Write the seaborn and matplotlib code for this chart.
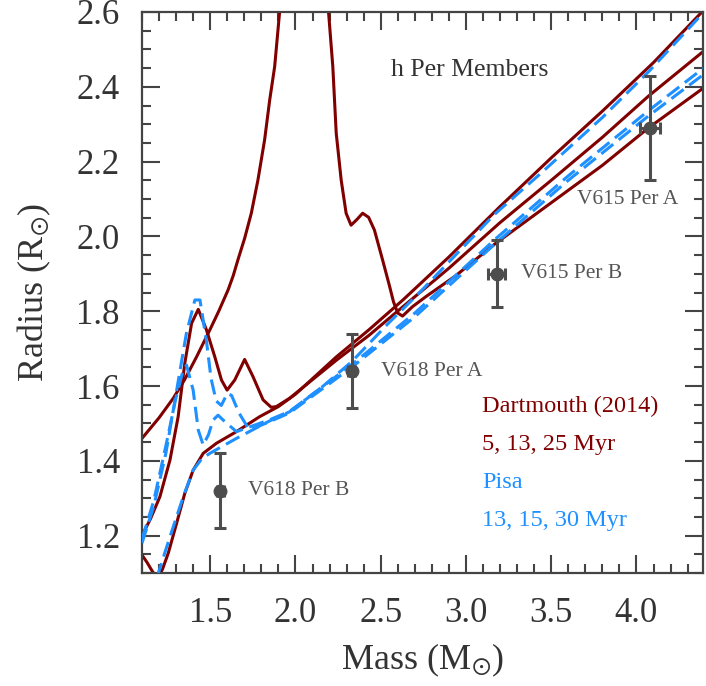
import numpy as np
import pandas as pd
import matplotlib
matplotlib.use("Agg")
import matplotlib.pyplot as plt
import seaborn as sns
from matplotlib.ticker import MultipleLocator

# ---------------- data ----------------
# Dartmouth (2014) isochrones
dart_5_m = [1.10, 1.20, 1.283, 1.35, 1.42, 1.50, 1.55, 1.605, 1.635, 1.663, 1.702, 1.741, 1.78,
            1.819, 1.849, 1.878, 1.907, 1.93, 1.97, 2.05, 2.13, 2.17, 2.194, 2.219, 2.239,
            2.268, 2.297, 2.326, 2.36, 2.394, 2.429, 2.463, 2.511, 2.55, 2.575, 2.60, 2.628,
            2.686, 2.765, 2.94, 3.17, 3.50, 3.80, 4.07, 4.39]
dart_5_r = [1.460, 1.515, 1.567, 1.617, 1.678, 1.752, 1.800, 1.857, 1.895, 1.938, 1.995, 2.062, 2.151,
            2.258, 2.365, 2.454, 2.600, 2.750, 2.950, 3.050, 2.950, 2.780, 2.600, 2.454, 2.276,
            2.151, 2.062, 2.030, 2.045, 2.062, 2.051, 2.017, 1.937, 1.870, 1.825, 1.795, 1.787,
            1.812, 1.839, 1.895, 1.980, 2.090, 2.190, 2.290, 2.396]

dart_13_m = [1.10, 1.15, 1.205, 1.264, 1.312, 1.351, 1.391, 1.43, 1.478, 1.527, 1.566, 1.599,
             1.644, 1.702, 1.751, 1.81, 1.858, 1.888, 1.965, 2.24, 2.43, 2.63, 2.90, 3.20,
             3.50, 3.80, 4.07, 4.39]
dart_13_r = [1.200, 1.245, 1.304, 1.402, 1.518, 1.661, 1.768, 1.805, 1.750, 1.678, 1.616, 1.589,
             1.616, 1.671, 1.625, 1.563, 1.543, 1.545, 1.567, 1.669, 1.735, 1.812, 1.915, 2.037,
             2.150, 2.265, 2.375, 2.494]

dart_25_m = [1.10, 1.13, 1.16, 1.18, 1.20, 1.22, 1.254, 1.303, 1.351, 1.40, 1.459, 1.537,
             1.654, 1.79, 1.90, 2.00, 2.24, 2.43, 2.63, 2.90, 3.20, 3.50, 3.80, 4.10, 4.39]
dart_25_r = [1.148, 1.128, 1.105, 1.092, 1.092, 1.110, 1.153, 1.233, 1.313, 1.375, 1.420, 1.447,
             1.478, 1.518, 1.545, 1.578, 1.678, 1.750, 1.830, 1.945, 2.080, 2.210, 2.335, 2.465,
             2.603]

# Pisa isochrones
pisa_13_m = [1.10, 1.17, 1.24, 1.30, 1.36, 1.41, 1.44, 1.478, 1.505, 1.535, 1.565, 1.60,
             1.625, 1.67, 1.73, 1.85, 1.965, 2.33, 2.70, 3.17, 3.60, 4.07, 4.39]
pisa_13_r = [1.180, 1.280, 1.420, 1.580, 1.740, 1.830, 1.830, 1.720, 1.620, 1.560, 1.548, 1.580,
             1.575, 1.527, 1.482, 1.505, 1.528, 1.650, 1.785, 1.980, 2.150, 2.322, 2.432]

pisa_15_m = [1.10, 1.17, 1.24, 1.30, 1.34, 1.361, 1.40, 1.43, 1.459, 1.49, 1.517, 1.546,
             1.585, 1.654, 1.85, 1.965, 2.33, 2.70, 3.17, 3.60, 4.07, 4.39]
pisa_15_r = [1.190, 1.295, 1.440, 1.570, 1.640, 1.656, 1.589, 1.482, 1.442, 1.470, 1.509, 1.522,
             1.505, 1.478, 1.510, 1.532, 1.657, 1.795, 1.992, 2.162, 2.336, 2.449]

pisa_30_m = [1.15, 1.196, 1.264, 1.342, 1.40, 1.45, 1.498, 1.654, 1.85, 1.965, 2.15, 2.33,
             2.55, 2.726, 3.17, 3.43, 3.80, 4.07, 4.39]
pisa_30_r = [1.030, 1.100, 1.197, 1.304, 1.375, 1.405, 1.420, 1.460, 1.507, 1.531, 1.595, 1.665,
             1.770, 1.849, 2.060, 2.165, 2.318, 2.440, 2.597]

# h Per eclipsing binary members
star_names = ["V618 Per B", "V618 Per A", "V615 Per B", "V615 Per A"]
star_mass = [1.56, 2.33, 3.18, 4.08]
star_mass_err = [0.02, 0.02, 0.05, 0.06]
star_rad = [1.32, 1.64, 1.90, 2.29]
star_rad_err = [0.10, 0.10, 0.09, 0.14]

# ---------------- style ----------------
sns.set_style("ticks")
plt.rcParams["font.family"] = ["Liberation Serif", "DejaVu Serif"]
plt.rcParams["mathtext.fontset"] = "stix"

RED = "#800000"
BLUE = "#1e90ff"
GREY = "#444444"

fig = plt.figure(figsize=(7.06, 6.86), dpi=100)
ax = fig.add_axes([142 / 706, 1 - 573 / 686, (703 - 142) / 706, (573 - 12) / 686])

for m, r in [(dart_5_m, dart_5_r), (dart_13_m, dart_13_r), (dart_25_m, dart_25_r)]:
    df = pd.DataFrame({"m": m, "r": r})
    sns.lineplot(data=df, x="m", y="r", sort=False, estimator=None, ax=ax,
                 color=RED, lw=2.2, solid_joinstyle="round", zorder=2)

for m, r in [(pisa_13_m, pisa_13_r), (pisa_15_m, pisa_15_r), (pisa_30_m, pisa_30_r)]:
    df = pd.DataFrame({"m": m, "r": r})
    sns.lineplot(data=df, x="m", y="r", sort=False, estimator=None, ax=ax,
                 color=BLUE, lw=2.2, linestyle=(0, (5.0, 2.3)), zorder=3)

ax.errorbar(star_mass, star_rad, xerr=star_mass_err, yerr=star_rad_err, fmt="o",
            color="#4d4d4d", ms=9, elinewidth=2.2, capsize=4, capthick=2.2, zorder=5)

label_offsets = [(0.16, 0.0), (0.17, 0.0), (0.14, 0.0), (-0.43, -0.19)]
for name, mx, ry, (dx, dy) in zip(star_names, star_mass, star_rad, label_offsets):
    ax.text(mx + dx, ry + dy, name, fontsize=15.5, color="#555555", ha="left", va="center")

ax.text(0.585, 0.897, "h Per Members", transform=ax.transAxes, fontsize=18.5,
        color="#333333", ha="center", va="center")
ax.text(3.094, 1.544, "Dartmouth (2014)", fontsize=17.5, color=RED, ha="left", va="center")
ax.text(3.094, 1.443, "5, 13, 25 Myr", fontsize=17.5, color=RED, ha="left", va="center")
ax.text(3.094, 1.341, "Pisa", fontsize=17.5, color=BLUE, ha="left", va="center")
ax.text(3.094, 1.240, "13, 15, 30 Myr", fontsize=17.5, color=BLUE, ha="left", va="center")

ax.set_xlim(1.1, 4.39)
ax.set_ylim(1.1, 2.6)
ax.xaxis.set_minor_locator(MultipleLocator(0.1))
ax.yaxis.set_minor_locator(MultipleLocator(0.05))
ax.set_xticks([1.5, 2.0, 2.5, 3.0, 3.5, 4.0])
ax.set_xticklabels(["1.5", "2.0", "2.5", "3.0", "3.5", "4.0"])
ax.set_yticks([1.2, 1.4, 1.6, 1.8, 2.0, 2.2, 2.4, 2.6])
ax.set_yticklabels(["1.2", "1.4", "1.6", "1.8", "2.0", "2.2", "2.4", "2.6"])

ax.tick_params(which="both", direction="in", top=True, right=True, colors=GREY,
               labelcolor="#333333", width=1.5)
ax.tick_params(which="major", length=13, labelsize=25)
ax.tick_params(axis="x", which="major", pad=17)
ax.tick_params(axis="y", which="major", pad=16)
ax.tick_params(which="minor", length=6.5)
for s in ax.spines.values():
    s.set_color(GREY)
    s.set_linewidth(1.6)

ax.set_xlabel(r"Mass (M$_{\odot}$)", fontsize=26, color="#333333", labelpad=9)
ax.set_ylabel(r"Radius (R$_{\odot}$)", fontsize=26, color="#333333", labelpad=17)

fig.savefig("out.png", dpi=100)
